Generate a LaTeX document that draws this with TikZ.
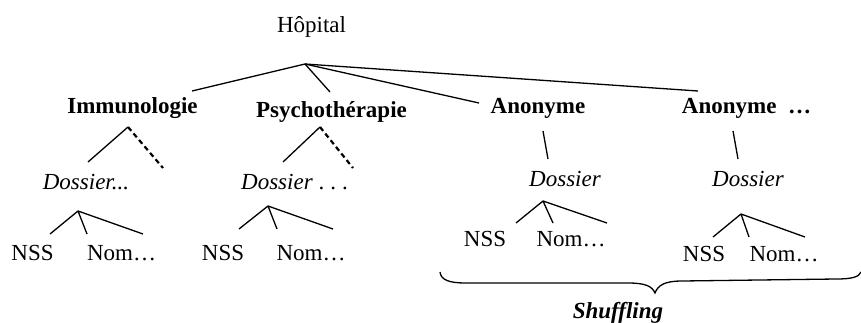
\documentclass[tikz,border=0pt]{standalone}
\usepackage{fontspec}
\setmainfont{Liberation Serif}
\begin{document}
\begin{tikzpicture}[x=1pt,y=-1pt,
  lbl/.style={inner sep=0pt, anchor=base, font=\fontsize{23}{27}\selectfont},
  dept/.style={lbl, font=\fontsize{23}{27}\selectfont\bfseries},
  rec/.style={lbl, font=\fontsize{23}{27}\selectfont\itshape},
  edge/.style={line width=1.3pt},
  hiddenedge/.style={line width=2.2pt, dash pattern=on 5pt off 3.5pt},
]
\useasboundingbox (0,0) rectangle (861,322);

% labels
\node[lbl]  (hop)  at (311.5,32) {Hôpital};
\node[dept] (imm)  at (132.5,113) {Immunologie};
\node[dept] (psy)  at (331.5,117) {Psychothérapie};
\node[dept] (an1)  at (538,113) {Anonyme};
\node[dept] (an2)  at (746.5,113) {Anonyme\ \ …};
\node[rec]  (d1)   at (86,189) {Dossier...};
\node[lbl]  (d2)   at (294.5,189) {\textit{Dossier}\ .\kern6pt.\kern6pt.};
\node[rec]  (d3)   at (565,186) {Dossier};
\node[rec]  (d4)   at (748,186) {Dossier};
\node[lbl]  (n1)   at (32.5,260) {NSS};
\node[lbl]  (m1)   at (121.5,260) {Nom…};
\node[lbl]  (n2)   at (223,260) {NSS};
\node[lbl]  (m2)   at (311,260) {Nom…};
\node[lbl]  (n3)   at (485,246) {NSS};
\node[lbl]  (m3)   at (571,246) {Nom…};
\node[lbl]  (n4)   at (704,261) {NSS};
\node[lbl]  (m4)   at (784,261) {Nom…};
\node[lbl, font=\fontsize{23}{27}\selectfont\bfseries\itshape] (shuf) at (618,318) {Shuffling};

% branching points and line ends
\coordinate (root) at (305,64);
\coordinate (rImm) at (192,91);
\coordinate (rPsy) at (330,92);
\coordinate (rAn1) at (479,103);
\coordinate (rAn2) at (698,91);

\coordinate (aImm) at (128,127);
\coordinate (eImm) at (88,162);
\coordinate (hImm) at (163,168);
\coordinate (aPsy) at (320,127);
\coordinate (ePsy) at (283,162);
\coordinate (hPsy) at (353,168);

\coordinate (t1) at (543,131);
\coordinate (b1) at (548,159);
\coordinate (t2) at (733,131);
\coordinate (b2) at (738,159);

\coordinate (k1) at (78,211);
\coordinate (k1a) at (50,234);
\coordinate (k1b) at (87,234);
\coordinate (k1c) at (143,234);
\coordinate (k2) at (268,206);
\coordinate (k2a) at (239,229);
\coordinate (k2b) at (277,229);
\coordinate (k2c) at (333,229);
\coordinate (k3) at (543,201);
\coordinate (k3a) at (516,223);
\coordinate (k3b) at (553,223);
\coordinate (k3c) at (607,223);
\coordinate (k4) at (741,214);
\coordinate (k4a) at (713,237);
\coordinate (k4b) at (749,237);
\coordinate (k4c) at (805,237);

% hospital level
\draw[edge] (rImm) -- (root) -- (rPsy);
\draw[edge] (root) -- (rAn1);
\draw[edge] (root) -- (rAn2);

% departments
\draw[edge] (aImm) -- (eImm);
\draw[hiddenedge] (aImm) -- (hImm);
\draw[edge] (aPsy) -- (ePsy);
\draw[hiddenedge] (aPsy) -- (hPsy);
\draw[edge] (t1) -- (b1);
\draw[edge] (t2) -- (b2);

% records
\draw[edge] (k1a) -- (k1) -- (k1c) (k1) -- (k1b);
\draw[edge] (k2a) -- (k2) -- (k2c) (k2) -- (k2b);
\draw[edge] (k3a) -- (k3) -- (k3c) (k3) -- (k3b);
\draw[edge] (k4a) -- (k4) -- (k4c) (k4) -- (k4b);

% brace over the anonymised branches
\coordinate (tip) at (655,293);
\draw[edge] (440,272) .. controls (441,280) and (449,283) .. (466,283)
  -- (628,283) .. controls (645,283) and (652,286) .. (tip)
  .. controls (658,285) and (665,281) .. (682,281)
  -- (836,279) .. controls (852,279) and (859,277) .. (861,272);
\end{tikzpicture}
\end{document}
